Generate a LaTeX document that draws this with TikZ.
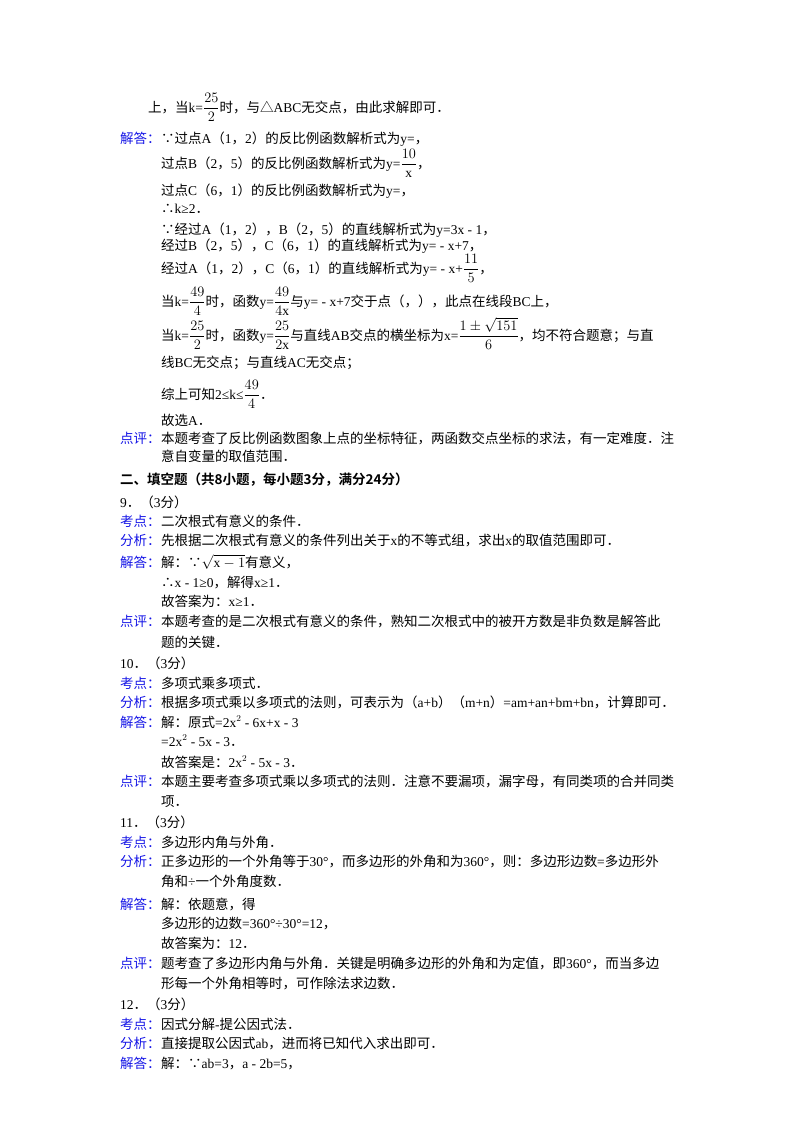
\documentclass[tikz,border=0pt]{standalone}
\usepackage{fontspec}
\setmainfont{Liberation Serif}
\newfontfamily\latf{Liberation Serif}
\newfontfamily\cjk{Noto Sans CJK SC}
\newfontfamily\cjkb{Noto Sans CJK SC Bold}
\XeTeXinterchartokenstate=1
\newXeTeXintercharclass\cjkcls
\newcount\cc
\cc="2E80 \loop \XeTeXcharclass\cc=\cjkcls \advance\cc 1 \ifnum\cc<"A000 \repeat
\cc="FF00 \loop \XeTeXcharclass\cc=\cjkcls \advance\cc 1 \ifnum\cc<"FFF0 \repeat
\XeTeXcharclass"2234=\cjkcls \XeTeXcharclass"2235=\cjkcls
\XeTeXcharclass"25B3=\cjkcls
\XeTeXinterchartoks 0 \cjkcls={\cjk}
\XeTeXinterchartoks 4095 \cjkcls={\cjk}
\XeTeXinterchartoks \cjkcls 0={\latf}
\XeTeXinterchartoks 4095 0={\latf}
\newcommand\hdfont{\XeTeXinterchartokenstate=0 \cjkb}
\definecolor{lbl}{RGB}{20,20,230}
\tikzset{txt/.style={anchor=base west,inner sep=0pt,font=\fontsize{13.5}{15}\selectfont},
 lab/.style={txt,text=lbl}}
\newcommand\tl[3]{\node[txt] (#1) at (#2,#3)}
\newcommand\tlab[3]{\node[lab] (#1) at (120,#3) {#2};}
\newcommand\fr[2]{{\displaystyle\frac{#1}{#2}}}
\begin{document}
\begin{tikzpicture}[x=1pt,y=-1pt]
\useasboundingbox (0,0) rectangle (800,1132);
\tl{a1}{148}{112} {上，当k=$\fr{25}{2}$时，与△ABC无交点，由此求解即可．};
\tlab{b0}{解答：}{143}
\tl{a2}{161}{143} {∵过点A（1，2）的反比例函数解析式为y=，};
\tl{a3}{161}{168} {过点B（2，5）的反比例函数解析式为y=$\fr{10}{\mathrm{x}}$，};
\tl{a4}{161}{195} {过点C（6，1）的反比例函数解析式为y=，};
\tl{a5}{161}{213} {∴k≥2．};
\tl{a6}{161}{234} {∵经过A（1，2），B（2，5）的直线解析式为y=3x - 1，};
\tl{a7}{161}{250} {经过B（2，5），C（6，1）的直线解析式为y= - x+7，};
\tl{a8}{161}{273} {经过A（1，2），C（6，1）的直线解析式为y= - x+$\fr{11}{5}$，};
\tl{a9}{161}{306} {当k=$\fr{49}{4}$时，函数y=$\fr{49}{4\mathrm{x}}$与y= - x+7交于点（，），此点在线段BC上，};
\tl{a10}{161}{340} {当k=$\fr{25}{2}$时，函数y=$\fr{25}{2\mathrm{x}}$与直线AB交点的横坐标为x=$\fr{1\pm\sqrt{151}}{6}$，均不符合题意；与直};
\tl{a11}{161}{367} {线BC无交点；与直线AC无交点；};
\tl{a12}{161}{399} {综上可知2≤k≤$\fr{49}{4}$．};
\tl{a13}{161}{425} {故选A．};
\tlab{b1}{点评：}{443}
\tl{a14}{161}{443} {本题考查了反比例函数图象上点的坐标特征，两函数交点坐标的求法，有一定难度．注};
\tl{a15}{161}{461} {意自变量的取值范围．};
\tl{h}{120}{484} {\hdfont 二、填空题（共8小题，每小题3分，满分24分）};
\tl{c0}{120}{507} {9．（3分）};
\tlab{b2}{考点：}{526}
\tl{c1}{161}{526} {二次根式有意义的条件．};
\tlab{b3}{分析：}{545}
\tl{c2}{161}{545} {先根据二次根式有意义的条件列出关于x的不等式组，求出x的取值范围即可．};
\tlab{b4}{解答：}{567}
\tl{c3}{161}{567} {解：∵$\sqrt{\mathrm{x}-1}$有意义，};
\tl{c4}{161}{587} {∴x - 1≥0，解得x≥1．};
\tl{c5}{161}{606} {故答案为：x≥1．};
\tlab{b5}{点评：}{626}
\tl{c6}{161}{626} {本题考查的是二次根式有意义的条件，熟知二次根式中的被开方数是非负数是解答此};
\tl{c7}{161}{647} {题的关键．};
\tl{d0}{120}{668} {10．（3分）};
\tlab{b6}{考点：}{688}
\tl{d1}{161}{688} {多项式乘多项式．};
\tlab{b7}{分析：}{707}
\tl{d2}{161}{707} {根据多项式乘以多项式的法则，可表示为（a+b）（m+n）=am+an+bm+bn，计算即可．};
\tlab{b8}{解答：}{727}
\tl{d3}{161}{727} {解：原式=2x$^2$ - 6x+x - 3};
\tl{d4}{161}{746} {=2x$^2$ - 5x - 3．};
\tl{d5}{161}{767} {故答案是：2x$^2$ - 5x - 3．};
\tlab{b9}{点评：}{786}
\tl{d6}{161}{786} {本题主要考查多项式乘以多项式的法则．注意不要漏项，漏字母，有同类项的合并同类};
\tl{d7}{161}{806} {项．};
\tl{e0}{120}{827} {11．（3分）};
\tlab{b10}{考点：}{847}
\tl{e1}{161}{847} {多边形内角与外角．};
\tlab{b11}{分析：}{866}
\tl{e2}{161}{866} {正多边形的一个外角等于30°，而多边形的外角和为360°，则：多边形边数=多边形外};
\tl{e3}{161}{886} {角和÷一个外角度数．};
\tlab{b12}{解答：}{909}
\tl{e4}{161}{909} {解：依题意，得};
\tl{e5}{161}{928} {多边形的边数=360°÷30°=12，};
\tl{e6}{161}{948} {故答案为：12．};
\tlab{b13}{点评：}{968}
\tl{e7}{161}{968} {题考查了多边形内角与外角．关键是明确多边形的外角和为定值，即360°，而当多边};
\tl{e8}{161}{988} {形每一个外角相等时，可作除法求边数．};
\tl{f0}{120}{1009} {12．（3分）};
\tlab{b14}{考点：}{1029}
\tl{f1}{161}{1029} {因式分解-提公因式法．};
\tlab{b15}{分析：}{1048}
\tl{f2}{161}{1048} {直接提取公因式ab，进而将已知代入求出即可．};
\tlab{b16}{解答：}{1068}
\tl{f3}{161}{1068} {解：∵ab=3，a - 2b=5，};
\end{tikzpicture}
\end{document}
